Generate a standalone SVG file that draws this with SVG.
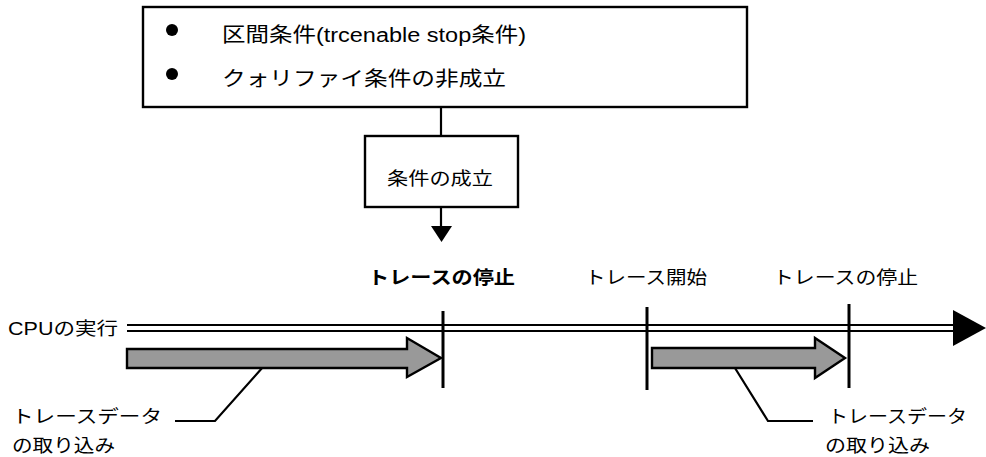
<svg xmlns="http://www.w3.org/2000/svg" width="986" height="457" viewBox="0 0 986 457">
<style>
text{font-family:"Liberation Sans","Noto Sans CJK JP",sans-serif;fill:#000}
.t18{font-size:20px}
.t17{font-size:18px}
.box{fill:#fff;stroke:#000;stroke-width:2.4}
.ln{stroke:#000;stroke-width:2.2;fill:none}
.bar{stroke:#000;stroke-width:3}
.garrow{fill:#999;stroke:#000;stroke-width:2.4;stroke-linejoin:miter}
</style>
<g id="conditions">
<rect class="box" x="143" y="7" width="604" height="100"/>
<circle cx="172" cy="30" r="6"/>
<circle cx="172" cy="74" r="6"/>
<text class="t18" x="222" y="42" textLength="304" lengthAdjust="spacingAndGlyphs">区間条件(trcenable stop条件)</text>
<text class="t18" x="222" y="86" textLength="284" lengthAdjust="spacingAndGlyphs">クォリファイ条件の非成立</text>
</g>
<g id="connectors">
<line class="ln" x1="441" y1="107" x2="441" y2="136"/>
<line class="ln" x1="441" y1="207" x2="441" y2="226"/>
<polygon points="431,226 452,226 441.5,242" fill="#000"/>
<line class="ln" x1="127" y1="325" x2="958" y2="325"/>
<line class="ln" x1="127" y1="331" x2="958" y2="331"/>
<polygon points="953,310 986,328 953,346" fill="#000"/>
<polyline class="ln" points="271,358 215,421 175,421"/>
<polyline class="ln" points="730,360 768,421 813,421"/>
</g>
<g id="satisfied">
<rect class="box" x="365" y="136" width="153" height="71"/>
<text class="t17" x="387" y="185" textLength="106" lengthAdjust="spacingAndGlyphs">条件の成立</text>
</g>
<g id="labels">
<text class="t17" x="368" y="284" font-weight="bold" textLength="147" lengthAdjust="spacingAndGlyphs">トレースの停止</text>
<text class="t17" x="585" y="284" textLength="122" lengthAdjust="spacingAndGlyphs">トレース開始</text>
<text class="t17" x="773" y="284" textLength="145" lengthAdjust="spacingAndGlyphs">トレースの停止</text>
<text class="t17" x="8" y="335" textLength="110" lengthAdjust="spacingAndGlyphs">CPUの実行</text>
</g>
<g id="bars">
<line class="bar" x1="443" y1="311" x2="443" y2="388"/>
<line class="bar" x1="647" y1="307" x2="647" y2="390"/>
<line class="bar" x1="849" y1="304" x2="849" y2="388"/>
</g>
<g id="trace1">
<polygon class="garrow" points="127,349 407,349 407,338 441,358 407,377 407,368 127,368"/>
</g>
<g id="trace2">
<polygon class="garrow" points="652,348 815,348 815,338 845,358 815,378 815,368 652,368"/>
</g>
<g id="capture1">
<text class="t17" x="12" y="423" textLength="150" lengthAdjust="spacingAndGlyphs">トレースデータ</text>
<text class="t17" x="12" y="452" textLength="103" lengthAdjust="spacingAndGlyphs">の取り込み</text>
</g>
<g id="capture2">
<text class="t17" x="828" y="423" textLength="139" lengthAdjust="spacingAndGlyphs">トレースデータ</text>
<text class="t17" x="825" y="452" textLength="105" lengthAdjust="spacingAndGlyphs">の取り込み</text>
</g>
</svg>
